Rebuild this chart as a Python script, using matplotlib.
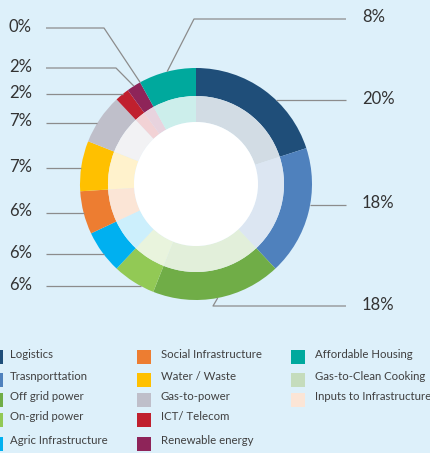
import numpy as np
import matplotlib.pyplot as plt
from matplotlib.patches import Circle, Rectangle
from matplotlib.colors import to_rgb

# data
sectors = ['Logistics', 'Trasnporttation', 'Off grid power', 'On-grid power',
           'Agric Infrastructure', 'Social Infrastructure', 'Water / Waste',
           'Gas-to-power', 'ICT/ Telecom', 'Renewable energy',
           'Affordable Housing', 'Gas-to-Clean Cooking', 'Inputs to Infrastructure']
shares = [20, 18, 18, 6, 6, 6, 7, 7, 2, 2, 8, 0, 0]
colors = ['#1f4e79', '#4f81bd', '#70ad47', '#92c955', '#00b0f0', '#ed7d31',
          '#ffc000', '#bfbfca', '#c0202e', '#8e2459', '#00a99d', '#c5dcbc', '#fbe5d6']
# clockwise order of slices round the ring, from the top
ring_order = [0, 1, 2, 3, 4, 5, 6, 7, 8, 9, 11, 10]

bg = '#ddf0fa'
W, H = 431, 453
plt.rcParams['font.family'] = ['Lato', 'DejaVu Sans']

fig = plt.figure(figsize=(W / 100, H / 100), dpi=100, facecolor=bg)
ax = fig.add_axes([0, 0, 1, 1])
ax.set_facecolor(bg)

cx, cy = 196, H - 184
R = 116


def pale(c, a=0.2):
    r = np.array(to_rgb(c))
    return tuple(a * r + (1 - a))


vals = [shares[i] for i in ring_order]
cols = [colors[i] for i in ring_order]
wedges, _ = ax.pie(vals, colors=cols, radius=R, center=(cx, cy), startangle=90,
                   counterclock=False, wedgeprops=dict(width=28, linewidth=0))
ax.pie(vals, colors=[pale(c) for c in cols], radius=88, center=(cx, cy), startangle=90,
       counterclock=False, wedgeprops=dict(width=26, linewidth=0))
ax.add_patch(Circle((cx, cy), 62, fc='white', lw=0, zorder=3))

# leader labels: sector -> (side, line y from top, elbow x or None)
labels = {
    11: ('left', 28, 104),
    9: ('left', 68, 116),
    8: ('left', 94, None),
    7: ('left', 123, None),
    6: ('left', 168, None),
    5: ('left', 213, None),
    4: ('left', 254, None),
    3: ('left', 286, None),
    10: ('right', 19, 194),
    0: ('right', 100, None),
    1: ('right', 205, None),
    2: ('right', 306, 213),
}
line_c = '#8c8c8c'
for idx, (side, ly_top, ex) in labels.items():
    w = wedges[ring_order.index(idx)]
    mid = np.deg2rad((w.theta1 + w.theta2) / 2)
    ly = H - ly_top
    xs = 46 if side == 'left' else 346
    if ex is None:
        dx = np.sqrt(R ** 2 - (ly - cy) ** 2)
        xe = cx - dx if side == 'left' else cx + dx
        px, py = [xs, xe], [ly, ly]
    else:
        ax_, ay_ = cx + R * np.cos(mid), cy + R * np.sin(mid)
        px, py = [xs, ex, ax_], [ly, ly, ay_]
    ax.plot(px, py, color=line_c, lw=0.9, zorder=4, solid_capstyle='butt')
    tx = 9 if side == 'left' else 362
    ax.text(tx, ly + 1.5, f'{shares[idx]}%', ha='left', va='center',
            fontsize=12, color='#333333')

# legend
sq_x = [-11, 137, 291]
txt_x = [10, 161, 315]
row_y = [357, 380, 400, 420, 444]
for k, name in enumerate(sectors):
    col, row = k // 5, k % 5
    y = H - row_y[row]
    ax.add_patch(Rectangle((sq_x[col], y - 7), 14, 14, fc=colors[k], lw=0))
    ax.text(txt_x[col], y + 3, name, ha='left', va='center', fontsize=8.2, color='#404040')

ax.set_xlim(0, W)
ax.set_ylim(0, H)
ax.set_aspect('auto')
ax.axis('off')

plt.savefig('out.png', dpi=100, facecolor=bg)
